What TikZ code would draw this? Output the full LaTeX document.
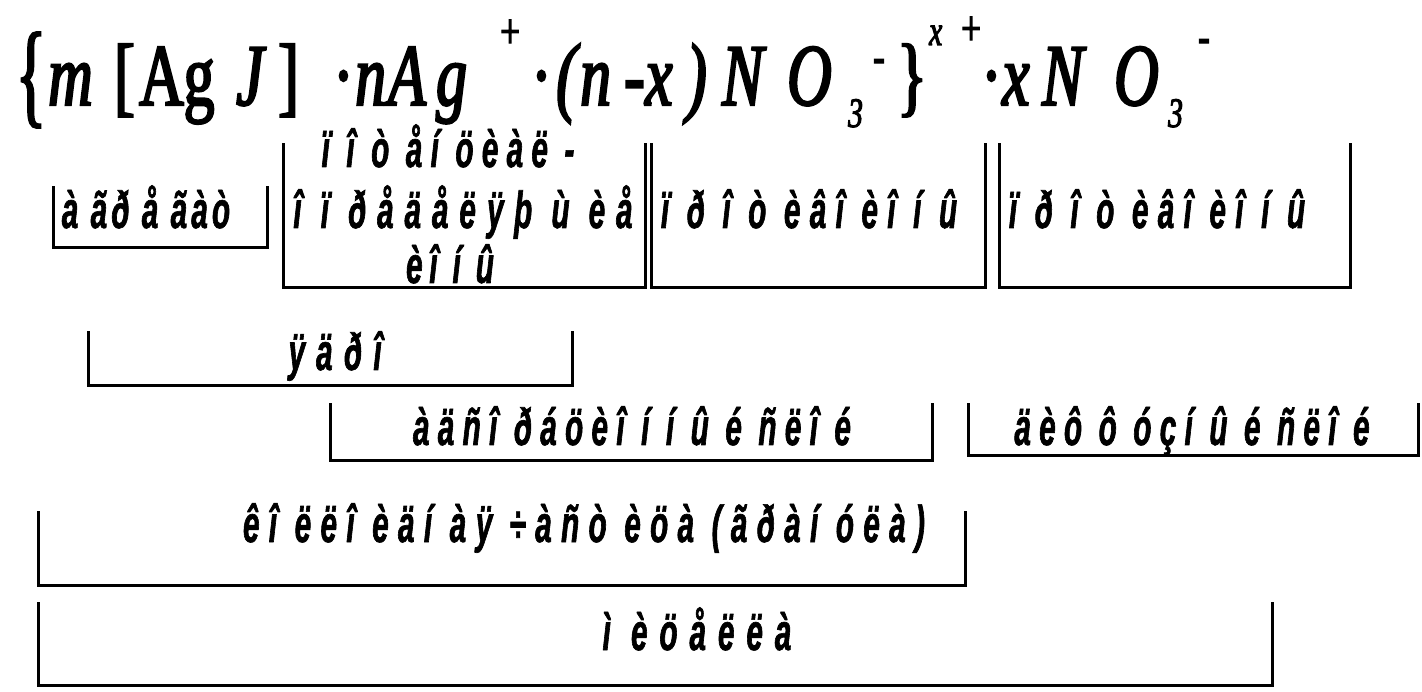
\documentclass[tikz,border=0pt]{standalone}
\usepackage{fontspec}
\setmainfont{Liberation Serif}
\newfontfamily\lblfont[FakeStretch=0.57,FakeBold=1.2]{Liberation Sans}
\newfontfamily\fmlfont[FakeStretch=0.7,FakeBold=2.5]{Liberation Serif}
\tikzset{
  lbl/.style={font=\lblfont\bfseries\itshape\fontsize{52}{54}\selectfont\addfontfeatures{LetterSpace=#1},
    inner sep=0pt, anchor=base},
  fi/.style={font=\fmlfont\itshape\fontsize{88}{88}\selectfont, inner sep=0pt, anchor=base west},
  fu/.style={font=\fmlfont\fontsize{88}{88}\selectfont, inner sep=0pt, anchor=base west},
  fs/.style={font=\fmlfont\itshape\fontsize{42}{42}\selectfont, inner sep=0pt, anchor=base west},
  fp/.style={font=\fmlfont\fontsize{50}{50}\selectfont, inner sep=0pt, anchor=base west},
  bx/.style={line width=3pt, line cap=rect}
}
\begin{document}
\begin{tikzpicture}[x=1pt,y=-1pt]
\useasboundingbox (0,0) rectangle (1422,692);
% formula of the micelle
\node[fu, anchor=center] (br1) at (31,80) {\scalebox{1}[1.3]{\{}};
\node[fi] (m) at (48,105) {m};
\node[fu] (lb) at (114,105) {[};
\node[fu] (ag) at (139,105) {Ag};
\node[fi] (j) at (236,105) {J};
\node[fu] (rb) at (278,105) {]};
\node[fu] (d1) at (333,105) {·};
\node[fi] (n1) at (355,105) {n};
\node[fi] (a2) at (388,105) {A};
\node[fi] (g2) at (436,105) {g};
\node[fp] (p1) at (500,48) {+};
\node[fu] (d2) at (531,105) {·};
\node[fi] (lp) at (556,105) {(};
\node[fi] (n2) at (580,105) {n};
\node[fi] (mi) at (624,105) {-};
\node[fi] (x1) at (645,105) {x};
\node[fi] (rp) at (686,105) {)};
\node[fi] (nn1) at (722,105) {N};
\node[fi] (o1) at (787,105) {O};
\node[fs] (s1) at (848,127) {3};
\node[fp] (c1) at (873,73) {-};
\node[fu] (br2) at (897,105) {\}};
\node[fs] (x2) at (929,45) {x};
\node[fp] (p2) at (961,45) {+};
\node[fu] (d3) at (981,105) {·};
\node[fi] (x3) at (1002,105) {x};
\node[fi] (nn2) at (1042,105) {N};
\node[fi] (o2) at (1114,105) {O};
\node[fs] (s2) at (1168,127) {3};
\node[fp] (c2) at (1198,53) {-};
% brackets under the parts of the formula
\draw[bx] (53,188) |- (267,248) -- (267,188);
\draw[bx] (283,145) |- (645,288) -- (645,145);
\draw[bx] (651,145) |- (985,288) -- (985,145);
\draw[bx] (999,145) |- (1350,288) -- (1350,145);
\draw[bx] (88,333) |- (572,386) -- (572,333);
\draw[bx] (330,405) |- (932,460) -- (932,405);
\draw[bx] (968,405) |- (1418,455) -- (1418,405);
\draw[bx] (38,512) |- (965,585) -- (965,512);
\draw[bx] (38,603) |- (1272,685) -- (1272,603);
% labels
\node[lbl=8] (agr) at (146,228) {à ãð å ãàò};
\node[lbl=16] (pot1) at (448,167) {ï î ò åí öèàë -};
\node[lbl=21] (pot2) at (463,228) {î ï ðåäåëÿþ ù èå};
\node[lbl=13] (pot3) at (450,283) {èî í û};
\node[lbl=18] (pr1) at (809,228) {ï ð î ò èâî èî í û};
\node[lbl=18] (pr2) at (1157,228) {ï ð î ò èâî èî í û};
\node[lbl=6] (yad) at (335,370) {ÿ ä ð î};
\node[lbl=16] (ads) at (632,445) {àäñî ðáöèî í í û é ñëî é};
\node[lbl=16] (dif) at (1192,445) {äèô ô óçí û é ñëî é};
\node[lbl=18] (kol) at (584,542) {êî ëëî èäí àÿ ÷àñò èöà (ãðàí óëà)};
\node[lbl=23] (mic) at (697,650) {ì èöåëëà};
\end{tikzpicture}
\end{document}
